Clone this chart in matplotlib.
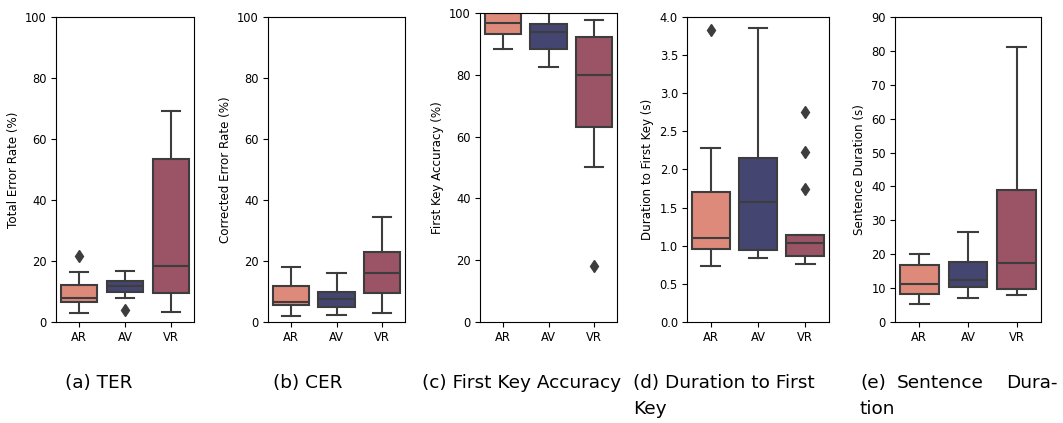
import matplotlib
matplotlib.use("Agg")
import matplotlib.pyplot as plt

cats = ["AR", "AV", "VR"]
colors = ["#dd8a7b", "#444671", "#9b5366"]

# each metric: q1, median, q3, whisker low, whisker high, outliers per category
ter_q1 = [6.7, 9.7, 9.4]
ter_med = [8.0, 11.8, 18.5]
ter_q3 = [12.1, 13.4, 53.3]
ter_lo = [3.0, 8.0, 3.3]
ter_hi = [16.3, 16.8, 69.2]
ter_fl = [[21.6], [3.9], []]

cer_q1 = [5.6, 4.8, 9.4]
cer_med = [6.7, 7.5, 16.0]
cer_q3 = [11.8, 9.7, 22.9]
cer_lo = [2.1, 2.4, 2.9]
cer_hi = [18.0, 16.1, 34.4]
cer_fl = [[], [], []]

fka_q1 = [93.1, 88.2, 63.2]
fka_med = [96.9, 93.8, 80.0]
fka_q3 = [100.0, 96.6, 92.2]
fka_lo = [88.2, 82.5, 50.0]
fka_hi = [100.0, 100.0, 97.6]
fka_fl = [[], [], [18.2]]

dfk_q1 = [0.954, 0.945, 0.866]
dfk_med = [1.107, 1.579, 1.033]
dfk_q3 = [1.707, 2.157, 1.138]
dfk_lo = [0.739, 0.844, 0.757]
dfk_hi = [2.284, 3.85, 1.14]
dfk_fl = [[3.83], [], [2.757, 2.232, 1.746]]

sd_q1 = [8.3, 10.4, 9.8]
sd_med = [11.3, 12.4, 17.4]
sd_q3 = [16.7, 17.8, 38.9]
sd_lo = [5.3, 7.1, 8.1]
sd_hi = [20.0, 26.5, 81.2]
sd_fl = [[], [], []]

panels = [
    (ter_q1, ter_med, ter_q3, ter_lo, ter_hi, ter_fl, "Total Error Rate (%)", (0, 100), [0, 20, 40, 60, 80, 100]),
    (cer_q1, cer_med, cer_q3, cer_lo, cer_hi, cer_fl, "Corrected Error Rate (%)", (0, 100), [0, 20, 40, 60, 80, 100]),
    (fka_q1, fka_med, fka_q3, fka_lo, fka_hi, fka_fl, "First Key Accuracy (%)", (0, 100), [0, 20, 40, 60, 80, 100]),
    (dfk_q1, dfk_med, dfk_q3, dfk_lo, dfk_hi, dfk_fl, "Duration to First Key (s)", (0, 4), [0, 0.5, 1, 1.5, 2, 2.5, 3, 3.5, 4]),
    (sd_q1, sd_med, sd_q3, sd_lo, sd_hi, sd_fl, "Sentence Duration (s)", (0, 90), [0, 10, 20, 30, 40, 50, 60, 70, 80, 90]),
]
tick_fmt = ["{:.0f}", "{:.0f}", "{:.0f}", "{:.1f}", "{:.0f}"]

W, H = 1063, 423
# axes boxes in pixels: left, right, top, bottom
boxes = [(56, 194, 17, 322), (268, 405, 17, 322), (480, 617, 13, 322),
         (687, 829, 17, 322), (895, 1041, 17, 322)]

fig = plt.figure(figsize=(W / 100, H / 100), dpi=100)
edge = "#3d3d3d"

for i, (q1, med, q3, lo, hi, fl, ylabel, ylim, ticks) in enumerate(panels):
    l, r, t, b = boxes[i]
    ax = fig.add_axes([l / W, (H - b) / H, (r - l) / W, (b - t) / H])
    stats = []
    for j in range(3):
        stats.append(dict(q1=q1[j], med=med[j], q3=q3[j], whislo=lo[j], whishi=hi[j], fliers=fl[j]))
    bp = ax.bxp(stats, positions=[0, 1, 2], widths=0.8, patch_artist=True,
                boxprops=dict(edgecolor=edge, linewidth=1.5),
                medianprops=dict(color=edge, linewidth=1.5),
                whiskerprops=dict(color=edge, linewidth=1.5),
                capprops=dict(color=edge, linewidth=1.5),
                capwidths=0.4,
                flierprops=dict(marker="d", markerfacecolor=edge, markeredgecolor=edge, markersize=6))
    for patch, c in zip(bp["boxes"], colors):
        patch.set_facecolor(c)
    ax.set_xlim(-0.5, 2.5)
    ax.set_ylim(*ylim)
    ax.set_yticks(ticks)
    ax.set_yticklabels([tick_fmt[i].format(v) for v in ticks])
    ax.set_xticks([0, 1, 2])
    ax.set_xticklabels(cats)
    ax.tick_params(labelsize=8.3, length=3.5, width=0.8, pad=3)
    ax.set_ylabel(ylabel, fontsize=8.6, labelpad=4)
    for s in ax.spines.values():
        s.set_linewidth(0.8)

# sub-captions; (e) is a justified line in the source
cap_font = dict(family=["DejaVu Sans"], fontsize=13.3, color="black", va="baseline")
y1 = 1 - 388 / H
y2 = 1 - 414 / H
fig.text(65 / W, y1, "(a) TER", **cap_font)
fig.text(273 / W, y1, "(b) CER", **cap_font)
fig.text(422 / W, y1, "(c) First Key Accuracy", **cap_font)
fig.text(633 / W, y1, "(d) Duration to First", **cap_font)
fig.text(633 / W, y2, "Key", **cap_font)
fig.text(860 / W, y1, "(e)", **cap_font)
fig.text(897 / W, y1, "Sentence", **cap_font)
fig.text(1058 / W, y1, "Dura-", ha="right", **cap_font)
fig.text(860 / W, y2, "tion", **cap_font)

fig.savefig("out.png", dpi=100)
